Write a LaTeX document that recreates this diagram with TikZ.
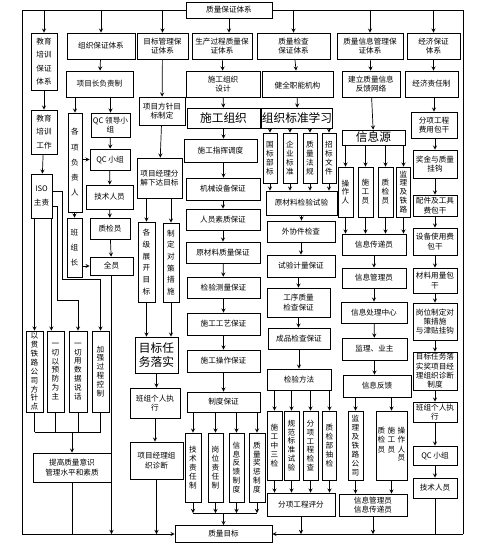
\documentclass[tikz,border=0pt]{standalone}
\usepackage{fontspec}
\setmainfont{Noto Sans CJK SC}
\begin{document}
\begin{tikzpicture}[
    x=0.3mm, y=-0.3mm,
    box/.style={
        draw,
        fill=white,
        align=center,
        inner sep=0.5pt,
        line width=0.6pt,
        font=\fontsize{6.5}{8}\selectfont
    },
    vbox/.style={box, font=\fontsize{6.5}{7.6}\selectfont},
    tallbox/.style={box, font=\fontsize{6.5}{11.5}\selectfont},
    bigbox/.style={box, font=\fontsize{10}{12.5}\selectfont},
    sz/.style 2 args={minimum width=#1*0.3mm, minimum height=#2*0.3mm},
    arrow/.style={-stealth, line width=0.6pt},
    link/.style={line width=0.6pt}
]
\useasboundingbox (0,0) rectangle (485,559);

% frame corners and bus lines
\coordinate (tl) at (22,10);
\coordinate (tr) at (463,10);
\coordinate (bl) at (22,534);
\coordinate (br) at (463,534);
\coordinate (gbus) at (0,432);
\coordinate (rbus) at (0,513);
\coordinate (isoA) at (57,300);
\coordinate (isoB) at (62,279);

\node[box, sz={86}{16}] (top) at (229,10) {质量保证体系};

% second row
\node[tallbox, sz={26}{57}] (edu) at (44,61.5) {教育\\培训\\保证\\体系};
\node[box, sz={68}{26}] (org) at (101,46) {组织保证体系};
\node[box, sz={51}{26}] (tgt) at (162.5,46) {目标管理保\\证体系};
\node[box, sz={60}{26}] (prd) at (222,46) {生产过程质量保\\证体系};
\node[box, sz={73}{26}] (chk) at (293.5,46) {质量检查\\保证体系};
\node[box, sz={66}{26}] (inf) at (370,46) {质量信息管理保\\证体系};
\node[box, sz={53}{26}] (eco) at (433.5,46) {经济保证\\体系};

% education
\node[tallbox, sz={26}{44}] (edu2) at (44,132) {教育\\培训\\工作};
\node[tallbox, sz={21}{44}] (iso) at (41.5,196) {ISO\\主责};
\node[vbox, sz={17}{81}] (g1) at (34.5,371.5) {以\\贯\\铁\\路\\公\\司\\方\\针\\点};
\node[vbox, sz={17}{81}] (g2) at (55.5,371.5) {一\\切\\以\\预\\防\\为\\主};
\node[vbox, sz={18}{81}] (g3) at (78,371.5) {一\\切\\用\\数\\据\\说\\话};
\node[vbox, sz={17}{81}] (g4) at (100.5,371.5) {加\\强\\过\\程\\控\\制};
\node[box, sz={78}{29}] (tg) at (72,467.5) {提高质量意识\\管理水平和素质};

% organisation
\node[box, sz={67}{26}] (pm) at (99.5,84) {项目长负责制};
\node[box, font=\fontsize{6.5}{13}\selectfont, sz={14}{99}] (leaders) at (75,162.5) {各\\项\\负\\责\\人};
\node[box, sz={39}{24}] (qcl) at (110.5,125) {QC 领导小\\组};
\node[box, sz={40}{21}] (qc) at (110,159.5) {QC 小组};
\node[box, sz={47}{24}] (tech) at (109.5,197) {技术人员};
\node[box, sz={40}{21}] (qi) at (110,228.5) {质检员};
\node[box, font=\fontsize{6.5}{13}\selectfont, sz={15}{59}] (bzz) at (74.5,247.5) {班\\组\\长};
\node[box, sz={43}{18}] (all) at (111.5,266) {全员};

% targets
\node[box, sz={46}{28}] (tgt2) at (162,111) {项目方针目\\标制定};
\node[box, sz={45}{40}] (dec) at (159.5,178) {项目经理分\\解下达目标};
\node[vbox, font=\fontsize{6.5}{10}\selectfont, sz={17}{80}] (lvl) at (146.5,262) {各\\级\\展\\开\\目\\标};
\node[vbox, font=\fontsize{6.5}{10}\selectfont, sz={16}{79}] (cm) at (171,262.5) {制\\定\\对\\策\\措\\施};
\node[bigbox, sz={43}{36}] (tsk) at (156.5,355) {目标任\\务落实};
\node[box, sz={50}{30}] (exe) at (155,403) {班组个人执\\行};
\node[box, sz={53}{37}] (diag) at (156.5,460.5) {项目经理组\\织诊断};

% production
\node[box, sz={74}{26}] (dsg) at (223,84) {施工组织\\设计};
\node[bigbox, sz={73}{20}] (sgz) at (223.5,118) {施工组织};
\node[box, sz={73}{23}] (zh) at (220.5,150.5) {施工指挥调度};
\node[box, sz={74}{22}] (jx) at (223,189) {机械设备保证};
\node[box, sz={74}{21}] (ry) at (223,219.5) {人员素质保证};
\node[box, sz={74}{21}] (mat) at (223,252.5) {原材料质量保证};
\node[box, sz={73}{21}] (jy) at (223.5,287.5) {检验测量保证};
\node[box, sz={73}{22}] (gy) at (223.5,324) {施工工艺保证};
\node[box, sz={73}{22}] (cz) at (223.5,361) {施工操作保证};
\node[box, sz={73}{20}] (zd) at (223.5,402) {制度保证};
\node[vbox, sz={16}{69}] (r1) at (193,467.5) {技\\术\\责\\任\\制};
\node[vbox, sz={15}{69}] (r2) at (215.5,467.5) {岗\\位\\责\\任\\制};
\node[vbox, sz={15}{69}] (r3) at (236.5,467.5) {信\\息\\反\\馈\\制\\度};
\node[vbox, sz={16}{69}] (r4) at (257,467.5) {质\\量\\奖\\惩\\制\\度};
\node[box, sz={97}{17}] (goal) at (223.5,534) {质量目标};

% inspection
\node[box, sz={71}{26}] (jzn) at (297.5,84) {~\\健全职能机构};
\node[bigbox, sz={70}{20}] (bzxx) at (297,118) {组织标准学习};
\node[vbox, sz={14}{50}] (s1) at (270,158) {国\\标\\部\\标};
\node[vbox, sz={14}{50}] (s2) at (290,158) {企\\业\\标\\准};
\node[vbox, sz={14}{50}] (s3) at (310,158) {质\\量\\法\\规};
\node[vbox, sz={14}{50}] (s4) at (329,158) {招\\标\\文\\件};
\node[box, sz={71}{24}] (ycl) at (301.5,203) {原材料检验试验};
\node[box, sz={68}{21}] (wx) at (301,231.5) {外协件检查};
\node[box, sz={68}{22}] (sy) at (301,266) {试验计量保证};
\node[box, sz={63}{29}] (gx) at (298.5,302.5) {工序质量\\检查保证};
\node[box, sz={62}{21}] (cp) at (299,338.5) {成品检查保证};
\node[box, sz={64}{21}] (ff) at (299,379.5) {检验方法};
\node[vbox, sz={15}{69}] (k1) at (274.5,445.5) {施\\工\\中\\三\\检};
\node[vbox, sz={15}{69}] (k2) at (291.5,445.5) {规\\范\\标\\准\\试\\验};
\node[vbox, sz={15}{69}] (k3) at (310.5,445.5) {分\\项\\工\\程\\检\\查};
\node[vbox, sz={14}{69}] (k4) at (329.5,445.5) {质\\检\\部\\抽\\检};
\node[box, sz={68}{23}] (pf) at (301,504.5) {分项工程评分};

% information
\node[box, sz={58}{26}] (fb) at (371,84) {建立质量信息\\反馈网络};
\node[bigbox, sz={63}{15}] (xxy) at (373.5,137.5) {信息源};
\node[vbox, sz={15}{50}] (i1) at (345.5,192) {操\\作\\人};
\node[vbox, sz={15}{50}] (i2) at (365.5,192) {施\\工\\员};
\node[vbox, sz={15}{50}] (i3) at (385.5,192) {质\\检\\员};
\node[vbox, sz={14}{50}] (i4) at (403.5,192) {监\\理\\及\\铁\\路};
\node[box, sz={64}{21}] (cd) at (374,244.5) {信息传递员};
\node[box, sz={64}{20}] (gl) at (374,278) {信息管理员};
\node[box, sz={66}{21}] (cl) at (374,312.5) {信息处理中心};
\node[box, sz={65}{22}] (yz) at (374.5,349) {监理、业主};
\node[box, sz={68}{22}] (fk) at (377,386) {信息反馈};
\node[vbox, sz={15}{69}] (jlt) at (355.5,445.5) {监\\理\\及\\铁\\路\\公\\司};
\node[vbox, sz={31}{69}] (op) at (391.5,445.5)
    {\begin{tabular}{@{}c@{\hspace{2pt}}c@{\hspace{2pt}}c@{}}质&施&操\\检&工&作\\员&员&人\\ & &员\end{tabular}};
\node[box, sz={68}{22}] (gc) at (373,505) {信息管理员\\信息传递员};

% economy
\node[box, sz={53}{26}] (resp) at (431.5,84) {经济责任制};
\node[box, sz={46}{26}] (fee) at (434,125) {分项工程\\费用包干};
\node[box, sz={44}{28}] (jj) at (435,164) {奖金与质量\\挂钩};
\node[box, sz={44}{21}] (pj) at (435,205.5) {配件及工具\\费包干};
\node[box, sz={44}{27}] (sb) at (435,241.5) {设备使用费\\包干};
\node[box, sz={44}{25}] (clb) at (435,280.5) {材料用量包\\干};
\node[box, sz={44}{37}] (gw) at (435,321.5) {岗位制定对\\策措施\\与津贴挂钩};
\node[box, sz={44}{38}] (mb) at (435,371) {目标任务落\\实奖项目经\\理组织诊断\\制度};
\node[box, sz={44}{20}] (gr) at (435,412) {班组个人执\\行};
\node[box, sz={44}{19}] (qc2) at (435,455.5) {QC 小组};
\node[box, sz={44}{20}] (js2) at (435,488) {技术人员};

% frame
\draw[link] (top.west) -- (tl) -- (bl);
\draw[link] (top.east) -- (tr) -- (br);
\draw[arrow] (bl) -- (goal.west);
\draw[arrow] (br) -- (goal.east);

\draw[arrow] (edu.north |- tl) -- (edu.north);
\draw[arrow] (org.north |- tl) -- (org.north);
\draw[arrow] (tgt.north |- tl) -- (tgt.north);
\draw[arrow] (top.south) -- (top.south |- prd.north);
\draw[arrow] (chk.north |- tl) -- (chk.north);
\draw[arrow] (inf.north |- tl) -- (inf.north);
\draw[arrow] (eco.north |- tl) -- (eco.north);

% education links
\draw[arrow] (edu) -- (edu2);
\draw[arrow] (edu2) -- (iso);
\draw[arrow] (g1.north |- iso.south) -- (g1.north);
\draw[arrow] ([xshift=-0.3mm]iso.south east) -- ([xshift=-0.3mm]iso.south east |- g2.north);
\draw[arrow] ([yshift=-3mm]iso.east) -| (isoA) -| (g3.north);
\draw[arrow] ([yshift=1.5mm]iso.east) -| (isoB) -| (g4.north);
\draw[link] (g1.south) -- (g1.south |- gbus);
\draw[link] (g2.south) -- (g2.south |- gbus);
\draw[link] (g3.south) -- (g3.south |- gbus);
\draw[link] (g4.south) -- (g4.south |- gbus);
\draw[link] (g1.south |- gbus) -- (g4.south |- gbus);
\draw[arrow] (tg.north |- gbus) -- (tg.north);
\draw[link] (tg.south) -- (tg.south |- bl);

% organisation links
\draw[arrow] (org) -- (pm);
\draw[arrow] (leaders.north |- pm.south) -- (leaders.north);
\draw[arrow] (qcl.north |- pm.south) -- (qcl.north);
\draw[arrow] (leaders.east |- qc) -- (qc.west);
\draw[arrow] (qcl) -- (qc);
\draw[arrow] (qc) -- (tech);
\draw[arrow] (tech) -- (qi);
\draw[arrow] (qi) -- (all);
\draw[arrow] (leaders.south -| bzz.north) -- (bzz.north);
\draw[arrow] (bzz.east |- all) -- (all.west);
\draw[arrow] (all.south) -- (all.south |- bl);

% target links
\draw[arrow] (tgt) -- (tgt2);
\draw[arrow] (tgt2) -- (dec);
\draw[arrow] (lvl.north |- dec.south) -- (lvl.north);
\draw[arrow] (cm.north |- dec.south) -- (cm.north);
\draw[arrow] (lvl.south) -- (lvl.south |- tsk.north);
\draw[arrow] (cm.south) -- (cm.south |- tsk.north);
\draw[arrow] (tsk.south) -- (tsk.south |- exe.north);
\draw[arrow] (exe.south) -- (exe.south |- diag.north);
\draw[arrow] (diag.south) -- (diag.south |- bl);

% production links
\draw[arrow] (prd) -- (dsg);
\draw[arrow] (dsg) -- (sgz);
\draw[arrow] (sgz.south) -- (sgz.south |- zh.north);
\draw[arrow] (sgz.south |- zh.south) -- (sgz.south |- jx.north);
\draw[arrow] (jx) -- (ry);
\draw[arrow] (ry) -- (mat);
\draw[arrow] (mat) -- (jy);
\draw[arrow] (jy) -- (gy);
\draw[arrow] (gy) -- (cz);
\draw[arrow] (cz) -- (zd);
\draw[arrow] (r1.north |- zd.south) -- (r1.north);
\draw[arrow] (r2.north |- zd.south) -- (r2.north);
\draw[arrow] (r3.north |- zd.south) -- (r3.north);
\draw[arrow] (r4.north |- zd.south) -- (r4.north);
\draw[arrow] (r1.south) -- (r1.south |- rbus);
\draw[arrow] (r2.south) -- (r2.south |- rbus);
\draw[arrow] (r3.south) -- (r3.south |- rbus);
\draw[arrow] (r4.south) -- (r4.south |- rbus);
\draw[link] (r1.south |- rbus) -- (r4.south |- rbus);
\draw[arrow] (goal.north |- rbus) -- (goal.north);

% inspection links
\draw[arrow] (chk) -- (jzn);
\draw[arrow] (jzn) -- (bzxx);
\draw[arrow] (s1.north |- bzxx.south) -- (s1.north);
\draw[arrow] (s2.north |- bzxx.south) -- (s2.north);
\draw[arrow] (s3.north |- bzxx.south) -- (s3.north);
\draw[arrow] (s4.north |- bzxx.south) -- (s4.north);
\draw[arrow] (s1.south) -- (s1.south |- ycl.north);
\draw[arrow] (s2.south) -- (s2.south |- ycl.north);
\draw[arrow] (s3.south) -- (s3.south |- ycl.north);
\draw[arrow] (s4.south) -- (s4.south |- ycl.north);
\draw[arrow] (ycl.south) -- (ycl.south |- wx.north);
\draw[arrow] (wx.south) -- (wx.south |- sy.north);
\draw[arrow] (gx.north |- sy.south) -- (gx.north);
\draw[arrow] (gx.south) -- (gx.south |- cp.north);
\draw[arrow] (cp.south) -- (cp.south |- ff.north);
\draw[arrow] (k1.north |- ff.south) -- (k1.north);
\draw[arrow] (k2.north |- ff.south) -- (k2.north);
\draw[arrow] (k3.north |- ff.south) -- (k3.north);
\draw[arrow] (k4.north |- ff.south) -- (k4.north);
\draw[arrow] (k1.south) -- (k1.south |- pf.north);
\draw[arrow] (k2.south) -- (k2.south |- pf.north);
\draw[arrow] (k3.south) -- (k3.south |- pf.north);
\draw[arrow] (k4.south) -- (k4.south |- pf.north);
\draw[arrow] (pf.south) -- (pf.south |- bl);

% information links
\draw[arrow] (inf) -- (fb);
\draw[arrow] (fb) -- (xxy);
\draw[arrow] (i1.north |- xxy.south) -- (i1.north);
\draw[arrow] (i2.north |- xxy.south) -- (i2.north);
\draw[arrow] (i3.north |- xxy.south) -- (i3.north);
\draw[arrow] (i4.north |- xxy.south) -- (i4.north);
\draw[arrow] (i1.south) -- (i1.south |- cd.north);
\draw[arrow] (i2.south) -- (i2.south |- cd.north);
\draw[arrow] (i3.south) -- (i3.south |- cd.north);
\draw[arrow] (i4.south) -- (i4.south |- cd.north);
\draw[arrow] (cd) -- (gl);
\draw[arrow] (gl) -- (cl);
\draw[arrow] (cl) -- (yz);
\draw[arrow] (yz.south) -- (yz.south |- fk.north);
\draw[arrow] (jlt.north |- fk.south) -- (jlt.north);
\draw[arrow] (op.north |- fk.south) -- (op.north);
\draw[arrow] (jlt.south) -- (jlt.south |- gc.north);
\draw[arrow] (op.south) -- (op.south |- gc.north);
\draw[arrow] (gc.south) -- (gc.south |- bl);

% economy links
\draw[arrow] (eco.south) -- (eco.south |- resp.north);
\draw[arrow] (fee.north |- resp.south) -- (fee.north);
\draw[arrow] (jj.north |- fee.south) -- (jj.north);
\draw[arrow] (jj) -- (pj);
\draw[arrow] (pj) -- (sb);
\draw[arrow] (sb) -- (clb);
\draw[arrow] (clb) -- (gw);
\draw[arrow] (gw) -- (mb);
\draw[arrow] (mb) -- (gr);
\draw[arrow] (gr) -- (qc2);
\draw[arrow] (qc2) -- (js2);
\draw[link] (js2.south) -- (js2.south |- br);

\end{tikzpicture}
\end{document}
